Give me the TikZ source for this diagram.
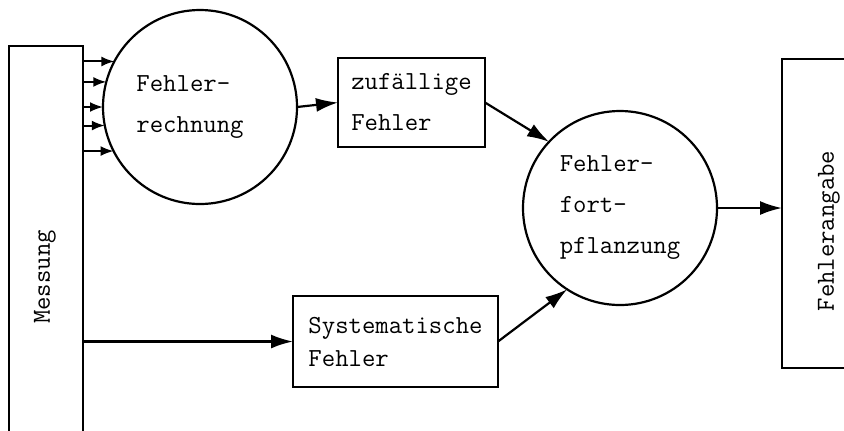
\documentclass[tikz,border=0pt]{standalone}
\usepackage{tikz}
\usetikzlibrary{arrows.meta, positioning, calc}

\begin{document}
\begin{tikzpicture}[x=0.5pt, y=-0.5pt,
  font=\ttfamily\fontsize{13}{20.5}\selectfont,
  kreis/.style={draw, circle, line width=1.1pt, minimum size=97pt, inner sep=0pt, outer sep=0pt, align=left},
  kasten/.style={draw, rectangle, line width=1.1pt, inner sep=0pt, outer sep=0pt, align=left},
  pfeil/.style={line width=1.1pt, -{Latex[length=11pt, width=7pt]}},
  pfeilchen/.style={line width=1pt, -{Latex[length=6.5pt, width=5pt]}}]
  % rahmen
  \useasboundingbox (0,0) rectangle (844,430);
  \clip (0,0) rectangle (844,430);
  % balken links und rechts
  \node[kasten, minimum width=37pt, minimum height=231pt] (mess) at (46,277) {};
  \node[rotate=90] (messtxt) at (45,277) {Messung};
  \node[kasten, minimum width=47pt, minimum height=154.5pt] (angabe) at (829,213.5) {};
  \node[rotate=90] (angabetxt) at (829,231) {Fehlerangabe};
  % kreise
  \node[kreis] (rechnung) at (200,107) {Fehler-\\rechnung\hspace*{10pt}};
  \node[kreis] (fortpfl) at (620,208) {Fehler-\\fort-\\pflanzung};
  % kaesten
  \node[kasten, minimum width=73.5pt, minimum height=44.5pt] (zufall) at (411.5,102.5) {zufällige\\Fehler};
  \node[kasten, minimum width=102.5pt, minimum height=45.5pt] (system) at (395.5,341.5) {Systematische\\[-4pt]Fehler};
  % pfeile
  \foreach \a in {152.4,165.1,180,191.9,207.6}
    \draw[pfeilchen] (rechnung.\a -| mess.east) -- (rechnung.\a);
  \draw[pfeil] (rechnung.east) -- (zufall.west);
  \draw[pfeil] (zufall.east) -- (fortpfl.137);
  \draw[pfeil] (system.west -| mess.east) -- (system.west);
  \draw[pfeil] (system.east) -- (fortpfl.237);
  \draw[pfeil] (fortpfl.east) -- (fortpfl.east -| angabe.west);
\end{tikzpicture}
\end{document}
